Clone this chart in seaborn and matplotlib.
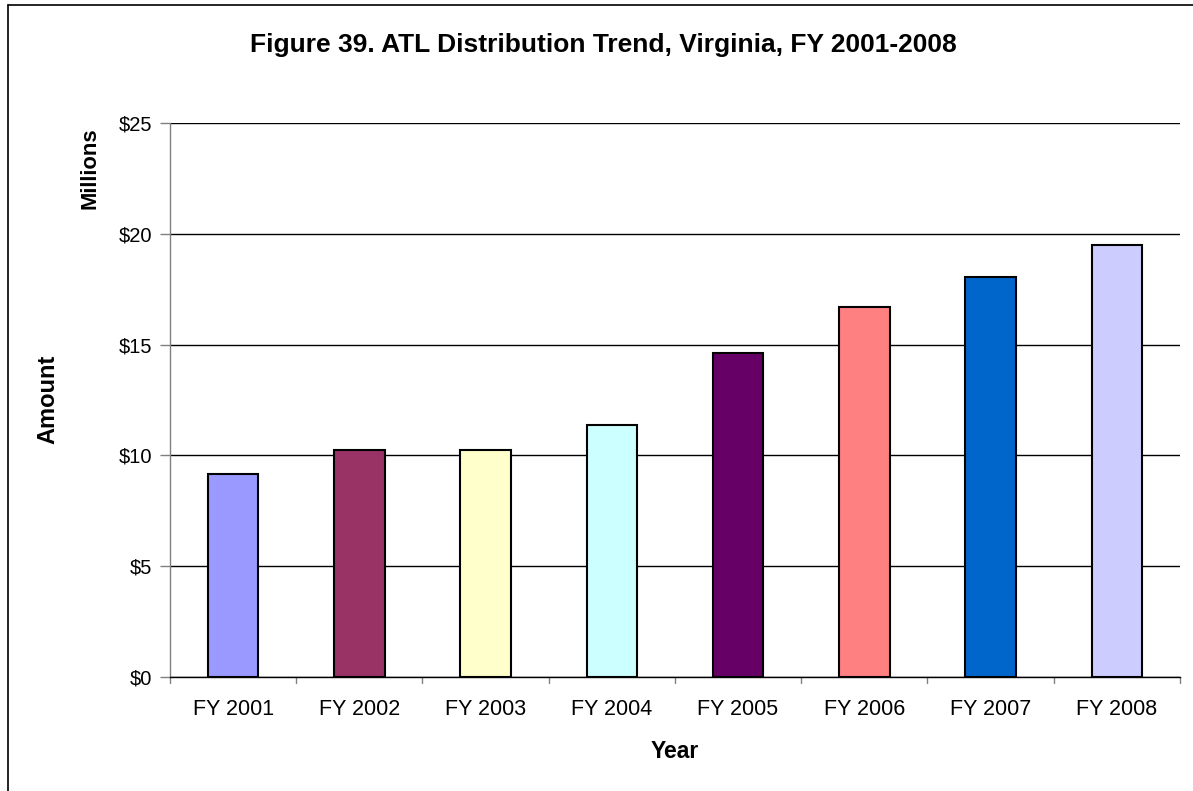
import pandas as pd
import seaborn as sns
import matplotlib.pyplot as plt
from matplotlib.lines import Line2D

years = ['FY 2001', 'FY 2002', 'FY 2003', 'FY 2004', 'FY 2005', 'FY 2006', 'FY 2007', 'FY 2008']
amounts = [9.17, 10.26, 10.26, 11.36, 14.62, 16.70, 18.05, 19.49]
bar_colors = ['#9999FF', '#993366', '#FFFFCC', '#CCFFFF', '#660066', '#FF8080', '#0066CC', '#CCCCFF']
y_ticks = [0, 5, 10, 15, 20, 25]
y_labels = ['$0', '$5', '$10', '$15', '$20', '$25']

sns.set_style("white")
plt.rcParams['font.family'] = ['Liberation Sans', 'DejaVu Sans']
plt.rcParams['text.color'] = 'black'
plt.rcParams['xtick.color'] = 'black'
plt.rcParams['ytick.color'] = 'black'
plt.rcParams['axes.labelcolor'] = 'black'

df = pd.DataFrame({'year': years, 'amount': amounts})

fig = plt.figure(figsize=(11.93, 7.91), dpi=100)
ax = fig.add_axes([0.1425, 0.1441, 0.8465, 0.7004])

sns.barplot(data=df, x='year', y='amount', hue='year', palette=bar_colors, saturation=1,
            width=0.4, edgecolor='black', linewidth=1.5, legend=False, ax=ax)

ax.set_ylim(0, 25)
ax.set_xlim(-0.5, 7.5)
ax.set_yticks(y_ticks)
ax.set_yticklabels(y_labels, fontsize=14.5)
ax.set_xticks(range(len(years)))
ax.set_xticklabels(years, fontsize=15.5)
ax.yaxis.grid(True, color='black', linewidth=1)
ax.set_axisbelow(True)

# ticks sit on category boundaries
ax.tick_params(axis='x', length=0, pad=16)
ax.tick_params(axis='y', length=7, width=1, direction='out', color='#808080', left=True, pad=6)
for b in range(9):
    ax.plot([b - 0.5, b - 0.5], [0, -0.28], color='#808080', lw=1, clip_on=False)

for side in ['top', 'right']:
    ax.spines[side].set_visible(False)
ax.spines['left'].set_color('#808080')
ax.spines['bottom'].set_color('black')
ax.spines['left'].set_linewidth(1)
ax.spines['bottom'].set_linewidth(1)

ax.set_xlabel('Year', fontsize=16.5, fontweight='bold', labelpad=14)
ax.set_ylabel('')
fig.text(0.04, 0.495, 'Amount', rotation=90, fontsize=17, fontweight='bold', ha='center', va='center')
fig.text(0.0754, 0.787, 'Millions', rotation=90, fontsize=15.8, fontweight='bold', ha='center', va='center')
fig.text(0.506, 0.943, 'Figure 39. ATL Distribution Trend, Virginia, FY 2001-2008',
         fontsize=19, fontweight='bold', ha='center', va='center')

# chart frame, only its left and top edges fall inside the image
fig.add_artist(Line2D([0.0067, 0.0067], [0, 0.9937], transform=fig.transFigure, color='black', lw=1.2))
fig.add_artist(Line2D([0.0067, 1.0], [0.9937, 0.9937], transform=fig.transFigure, color='black', lw=1.2))

plt.savefig('out.png', dpi=100)
